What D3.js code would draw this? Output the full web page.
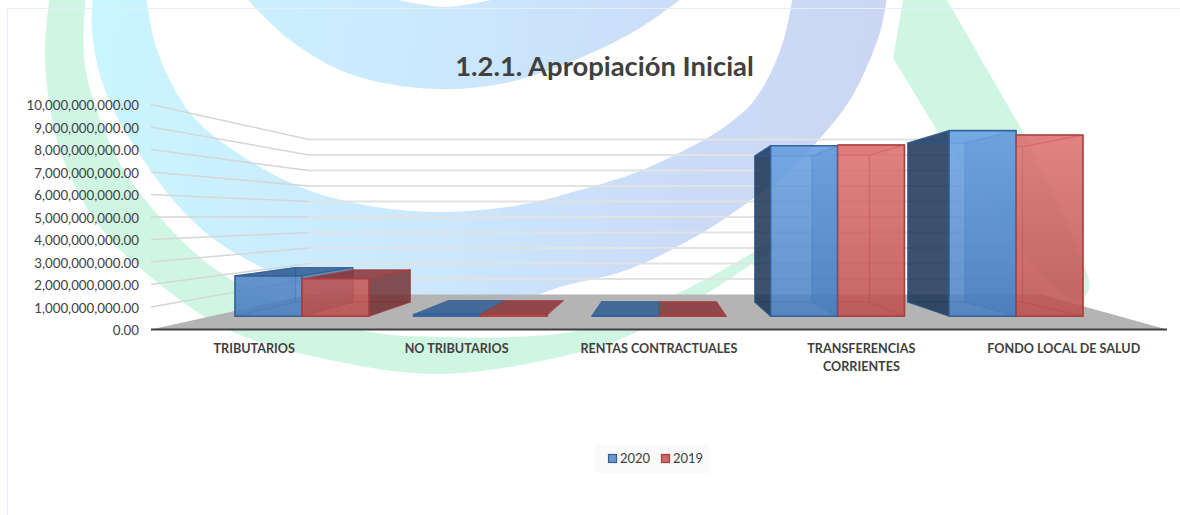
<!DOCTYPE html>
<html><head><meta charset="utf-8">
<script src="https://cdn.jsdelivr.net/npm/d3@7/dist/d3.min.js"></script>
<style>html,body{margin:0;padding:0;background:#fff}svg{display:block}text{font-family:Lato,"Open Sans",sans-serif}</style>
</head><body><svg id="c" width="1180" height="515"></svg>
<script>
const categories=["TRIBUTARIOS","NO TRIBUTARIOS","RENTAS CONTRACTUALES","TRANSFERENCIAS CORRIENTES","FONDO LOCAL DE SALUD"];
const seriesNames=["2020","2019"];
const values2020=[2.03e9,0.09e9,0.02e9,8.59e9,9.35e9];
const values2019=[1.89e9,0.09e9,0.02e9,8.63e9,9.13e9];
const yTicks=[0,1e9,2e9,3e9,4e9,5e9,6e9,7e9,8e9,9e9,1e10];
const titleText="1.2.1. Apropiación Inicial";

const svg=d3.select("#c");
const W=1180,H=515;
// perspective scene
const vx=659,vy=217,sWall=0.689,sFront=0.882,sBack=0.756;
const x0=d3.scaleBand().domain(categories).range([153,1165]);
const bw=x0.bandwidth();
const x1=d3.scaleBand().domain(seriesNames).range([0,bw]).paddingInner(0).paddingOuter(1/3);
const y=d3.scaleLinear().domain([0,1e10]).range([329.5,104.5]);
const P=(xw,yw,s)=>[vx+(xw-vx)*s,vy+(yw-vy)*s];
const poly=a=>"M"+a.map(p=>p.join(",")).join("L")+"Z";
const curve=d3.line().curve(d3.curveCatmullRom.alpha(.5));
const band=(a,b)=>curve(a)+"L"+curve(b.slice().reverse()).slice(1)+"Z";

// background watermark
const defs=svg.append("defs");
const g=defs.append("linearGradient").attr("id","bl").attr("gradientUnits","userSpaceOnUse")
 .attr("x1",90).attr("y1",0).attr("x2",880).attr("y2",120);
[[0,"#c9f6ff"],[.45,"#cbe8fe"],[.75,"#cbdcf8"],[1,"#cbd6f2"]].forEach(d=>g.append("stop").attr("offset",d[0]).attr("stop-color",d[1]));
const vg=(id,a,b)=>{const l=defs.append("linearGradient").attr("id",id).attr("gradientUnits","userSpaceOnUse").attr("x1",0).attr("x2",0).attr("y1",130).attr("y2",316);
 l.append("stop").attr("offset",0).attr("stop-color",a);l.append("stop").attr("offset",1).attr("stop-color",b);};
vg("fb","#6ca4e6","#4a7fc0");
vg("fr","#df7371","#bd4f4d");
const wm=svg.append("g");
const green="#cff6e3";
wm.append("path").attr("fill",green).attr("d",band(
 [[50,-5],[45,60],[60,150],[100,227],[167,290],[233,332],[330,360],[443,374],[580,352],[637,332],[700,298],[775,248]],
 [[86,-5],[85,67],[113,150],[143,197],[207,263],[280,305],[370,332],[443,337],[510,337],[580,330],[672,296],[757,250],[775,238]]));
wm.append("path").attr("fill","url(#bl)").attr("d",band(
 [[93,-5],[92,30],[100,75],[116,115],[137,150],[173,200],[215,240],[267,270],[330,297],[445,316],[500,308],[560,287],[627,270],[702,233],[747,203],[785,175],[816,143],[850,100],[871,57],[882,25],[887,-5]],
 [[146,-5],[157,50],[190,113],[233,150],[300,187],[370,206],[445,212],[520,205],[587,188],[635,173],[679,153],[720,130],[752,103],[772,70],[785,35],[793,-5]]));
wm.append("path").attr("fill","url(#bl)").attr("d",band(
 [[247,-1],[290,40],[350,74],[435,89],[510,82],[580,58],[640,28],[681,-1]],
 [[394,-1],[445,7],[495,-1]]));
wm.append("path").attr("fill",green).attr("d","M903,0 C900,20 896,40 893,58 L938,132 C970,180 1005,225 1030,260 C1045,280 1060,292 1075,300 C1085,300 1091,292 1089,280 C1085,262 1060,205 1023,132 L947,0 Z");

// frame
svg.append("path").attr("d",`M7.5,${H}V8.5H${W}`).attr("fill","none").attr("stroke","#e4eef8").attr("stroke-width",1);

// gridlines
const grid=svg.append("g");
yTicks.forEach(t=>{
  if(t===0) return;
  const a=[151,y(t)],b=P(151,y(t),sWall),c=P(1167,y(t),sWall);
  grid.append("line").attr("x1",a[0]).attr("y1",a[1]).attr("x2",b[0]).attr("y2",b[1]).attr("stroke","#d6d6d6").attr("stroke-width",1.5);
  grid.append("line").attr("x1",b[0]).attr("y1",b[1]).attr("x2",c[0]).attr("y2",c[1]).attr("stroke","#e2e2e2").attr("stroke-width",2);
});
// floor
const fb=P(151,y(0),sWall);
svg.append("path").attr("fill","#b4b4b4").attr("d",poly([[151,y(0)],[1167,y(0)],[1041,fb[1]],fb]));

// bars
const styles={
 "2020":{front:"url(#fb)",swatch:"#6a96cc",dark:"#1c3553",top:"#2f5c90",inner:"#23508a",innerOp:.55,line:"#2f5f98"},
 "2019":{front:"url(#fr)",swatch:"#cf6a68",dark:"#6e2a2c",top:"#8a3436",inner:"#a83a3a",innerOp:.12,line:"#a83c3c"}
};
const bars=svg.append("g");
const rows=categories.map((c,i)=>seriesNames.map((s,j)=>({c,s,j,i,v:[values2020,values2019][j][i]})));
rows.flat().forEach(d=>{
  const st=styles[d.s];
  const xa=x0(d.c)+x1(d.s),xb=xa+x1.bandwidth(),y0=y(0),y1=y(d.v);
  const fbl=P(xa,y0,sFront),fbr=P(xb,y0,sFront),ftl=P(xa,y1,sFront),ftr=P(xb,y1,sFront);
  const bbl=P(xa,y0,sBack),bbr=P(xb,y0,sBack),btl=P(xa,y1,sBack),btr=P(xb,y1,sBack);
  const gg=bars.append("g").attr("stroke",st.line).attr("stroke-linejoin","round");
  // the 2019 bar right of the vanishing point does not show through its neighbour
  if(d.j===1&&fbl[0]>=vx){
    const id="clip"+d.i;
    defs.append("clipPath").attr("id",id).append("rect").attr("x",fbl[0]).attr("y",0).attr("width",W-fbl[0]).attr("height",H);
    gg.attr("clip-path",`url(#${id})`);
  }
  const face=(pts,fill,op,sw,sop)=>gg.append("path").attr("d",poly(pts)).attr("fill",fill).attr("fill-opacity",op).attr("stroke-width",sw).attr("stroke-opacity",sop);
  const hasBody=y1<y0-8;
  if(hasBody){
    face([bbl,bbr,btr,btl],st.inner,.08,1,.35);
    face([fbl,fbr,bbr,bbl],st.inner,.12,1,.45);
  }
  const leftOut=d.j===0&&fbl[0]>vx, rightOut=d.j===seriesNames.length-1&&fbr[0]<vx, topOut=ftl[1]>vy;
  if(hasBody){
    if(d.j===0) face([fbl,bbl,btl,ftl],leftOut?st.dark:st.inner,leftOut?.85:st.innerOp*.4,1.2,.7);
    face([fbr,bbr,btr,ftr],rightOut?st.dark:st.inner,rightOut?.8:st.innerOp,1.2,.65);
  }
  face([ftl,ftr,btr,btl],topOut?st.top:st.inner,topOut?.85:.25,1.2,.75);
  face([fbl,fbr,ftr,ftl],st.front,.85,1.6,.9);
});

// axis base
svg.append("line").attr("x1",151).attr("x2",1167).attr("y1",y(0)).attr("y2",y(0)).attr("stroke","#404040").attr("stroke-width",2);

// y axis
const ya=svg.append("g").attr("transform","translate(139,0.6)")
 .call(d3.axisLeft(y).tickValues(yTicks).tickFormat(d3.format(",.2f")).tickSize(0).tickPadding(0));
ya.select(".domain").remove();
ya.selectAll("text").attr("fill","#404040").style("font-size","13.3px").style("font-family","Lato").attr("dy","0.35em");

// category labels
const catG=svg.append("g");
categories.forEach(c=>{
  const t=catG.append("text").attr("text-anchor","middle").attr("fill","#404040").attr("font-size",12.6).attr("font-weight",700);
  const cx=x0(c)+bw/2;
  const lines=c==="TRANSFERENCIAS CORRIENTES"?c.split(" "):[c];
  lines.forEach((l,i)=>t.append("tspan").attr("x",cx).attr("y",353+i*18).text(l));
});

// title
svg.append("text").attr("x",604.5).attr("y",76).attr("text-anchor","middle").attr("font-size",27.4).attr("font-weight",700).attr("fill","#404040").text(titleText);

// legend
const lg=svg.append("g");
lg.append("rect").attr("x",595).attr("y",445).attr("width",115).attr("height",28).attr("fill","#fafafa");
const lx=d3.scalePoint().domain(seriesNames).range([608,661]);
seriesNames.forEach(s=>{
  lg.append("rect").attr("x",lx(s)+.5).attr("y",454.5).attr("width",8).attr("height",8).attr("fill",styles[s].swatch).attr("stroke",styles[s].line).attr("stroke-width",1.2);
  lg.append("text").attr("x",lx(s)+12).attr("y",463).attr("font-size",13).attr("fill","#404040").text(s);
});
</script></body></html>
